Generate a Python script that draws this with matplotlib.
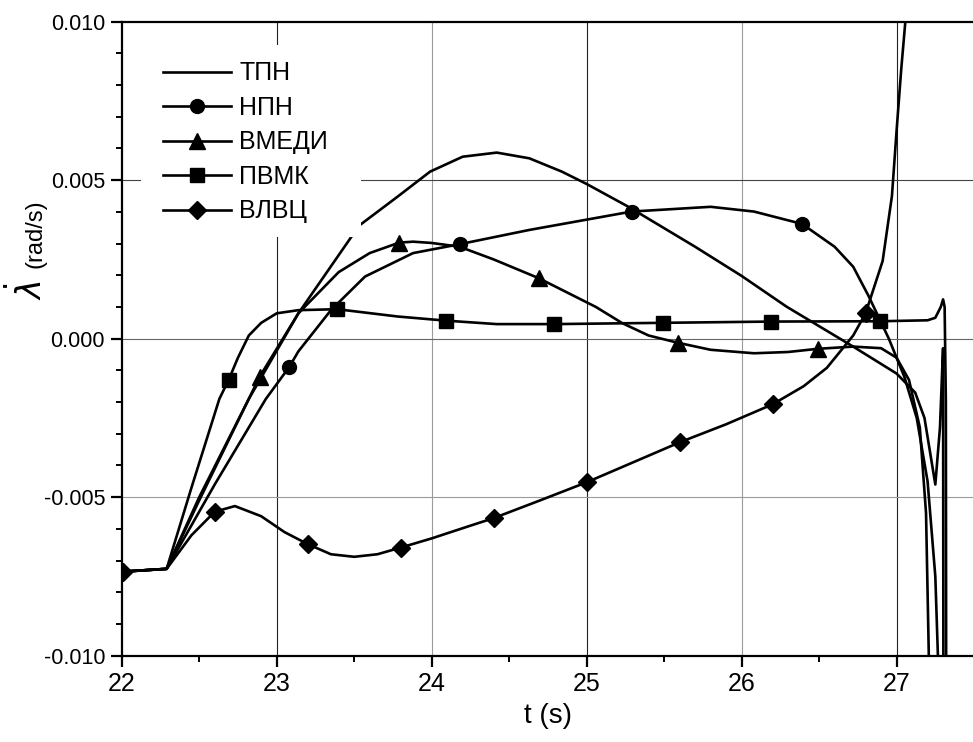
import matplotlib
matplotlib.use("Agg")
import matplotlib.pyplot as plt
from matplotlib.lines import Line2D
from matplotlib.patches import Rectangle

# ---- curves: time (s) and angular rate (rad/s) ----
t_tpn = [22.0, 22.29, 22.5, 22.82, 23.14, 23.48, 23.53, 23.78, 23.99, 24.2, 24.42,
         24.63, 24.84, 25.0, 25.27, 25.7, 26.0, 26.29, 26.72, 27.0, 27.12, 27.18, 27.22,
         27.25, 27.28, 27.295, 27.30, 27.302]
w_tpn = [-0.00735, -0.00726, -0.0051, -0.0019, 0.0008, 0.0032, 0.00356, 0.00448, 0.00527,
         0.00574, 0.00587, 0.00569, 0.00527, 0.00488, 0.00416, 0.0029, 0.00198, 0.00101,
         -0.00025, -0.0011, -0.0017, -0.0025, -0.0037, -0.0046, -0.0028, -0.0009, -0.0003,
         -0.0105]

t_npn = [22.0, 22.29, 22.6, 22.93, 23.08, 23.14, 23.35, 23.57, 23.88, 24.18, 24.63, 25.29,
         25.8, 26.08, 26.39, 26.6, 26.72, 26.82, 26.95, 27.05, 27.13, 27.2, 27.25, 27.27]
w_npn = [-0.00735, -0.00726, -0.0046, -0.0019, -0.0009, -0.0004, 0.0009, 0.00196, 0.0027,
         0.00298, 0.00343, 0.00401, 0.00416, 0.00401, 0.00362, 0.0029, 0.00227, 0.00134,
         0.0000, -0.0012, -0.0025, -0.0045, -0.0075, -0.0105]

t_vmedi = [22.0, 22.29, 22.5, 22.82, 22.89, 23.14, 23.4, 23.6, 23.79, 23.88, 24.0, 24.18,
           24.4, 24.69, 24.8, 25.06, 25.23, 25.4, 25.59, 25.8, 26.08, 26.3, 26.49, 26.72,
           26.9, 27.0, 27.08, 27.15, 27.19, 27.21]
w_vmedi = [-0.00735, -0.00726, -0.005, -0.0019, -0.0012, 0.0008, 0.0021, 0.0027, 0.00303,
           0.00306, 0.00302, 0.0029, 0.0025, 0.00191, 0.00164, 0.001, 0.00049, 0.0001,
           -0.00013, -0.00035, -0.00046, -0.00042, -0.00032, -0.00025, -0.0003, -0.0006,
           -0.0013, -0.0028, -0.0055, -0.0105]

t_pvmk = [22.0, 22.29, 22.45, 22.63, 22.69, 22.75, 22.82, 22.9, 23.0, 23.14, 23.39, 23.78,
          24.09, 24.42, 24.79, 25.49, 26.19, 26.89, 27.2, 27.25, 27.285, 27.3, 27.31, 27.318,
          27.32]
w_pvmk = [-0.00735, -0.00726, -0.0047, -0.0019, -0.0013, -0.0006, 0.0001, 0.0005, 0.0008,
          0.0009, 0.00093, 0.0007, 0.00057, 0.00046, 0.00046, 0.0005, 0.00054, 0.00055,
          0.00058, 0.00066, 0.0010, 0.00124, 0.0010, -0.002, -0.0105]

t_vlvc = [22.0, 22.29, 22.45, 22.6, 22.73, 22.9, 23.05, 23.2, 23.35, 23.5, 23.65, 23.8, 24.0,
          24.23, 24.4, 24.7, 25.0, 25.3, 25.6, 25.9, 26.2, 26.4, 26.55, 26.72, 26.8, 26.91,
          26.97, 27.0, 27.03, 27.06]
w_vlvc = [-0.00735, -0.00726, -0.0062, -0.00546, -0.00528, -0.0056, -0.0061, -0.00648,
          -0.0068, -0.00688, -0.0068, -0.00659, -0.0063, -0.00593, -0.00566, -0.0051,
          -0.00453, -0.0039, -0.00327, -0.0027, -0.00207, -0.0015, -0.00092, 0.0001, 0.0008,
          0.00245, 0.0045, 0.00656, 0.0085, 0.0102]

# ---- symbol positions along the curves ----
mt_npn = [23.08, 24.18, 25.29, 26.39]
mw_npn = [-0.0009, 0.00298, 0.00401, 0.00362]
mt_vmedi = [22.89, 23.79, 24.69, 25.59, 26.49]
mw_vmedi = [-0.0012, 0.00303, 0.00191, -0.00013, -0.00032]
mt_pvmk = [22.69, 23.39, 24.09, 24.79, 25.49, 26.19, 26.89]
mw_pvmk = [-0.0013, 0.00093, 0.00057, 0.00046, 0.0005, 0.00054, 0.00055]
mt_vlvc = [22.01, 22.6, 23.2, 23.8, 24.4, 25.0, 25.6, 26.2, 26.8]
mw_vlvc = [-0.00735, -0.00546, -0.00648, -0.00659, -0.00566, -0.00453, -0.00327, -0.00207,
           0.0008]

labels = ["ТПН", "НПН", "ВМЕДИ", "ПВМК", "ВЛВЦ"]
x_ticks = [22, 23, 24, 25, 26, 27]
y_ticks = [-0.010, -0.005, 0.000, 0.005, 0.010]

plt.rcParams["font.family"] = ["Liberation Sans", "DejaVu Sans"]
plt.rcParams["mathtext.fontset"] = "dejavusans"

fig = plt.figure(figsize=(9.73, 7.42), dpi=100)
ax = fig.add_axes([0.1251, 0.1163, 0.8760, 0.8545])

LW = 1.9
MS = {"o": 10, "^": 11, "s": 9.5, "D": 9.5}
# grid lines
for xv, c in zip([23, 24, 25, 26, 27], ["#222222", "#9a9a9a", "#222222", "#9a9a9a", "#222222"]):
    ax.axvline(xv, color=c, lw=0.8, zorder=1)
for yv, c in zip([0.005, 0.0, -0.005], ["#444444", "#666666", "#9a9a9a"]):
    ax.axhline(yv, color=c, lw=0.8, zorder=1)

ax.plot(t_tpn, w_tpn, color="black", lw=LW, zorder=3)
ax.plot(t_npn, w_npn, color="black", lw=LW, zorder=3)
ax.plot(t_vmedi, w_vmedi, color="black", lw=LW, zorder=3)
ax.plot(t_pvmk, w_pvmk, color="black", lw=LW, zorder=3)
ax.plot(t_vlvc, w_vlvc, color="black", lw=LW, zorder=3)

ax.plot(mt_npn, mw_npn, "o", color="black", ms=MS["o"], zorder=4)
ax.plot(mt_vmedi, mw_vmedi, "^", color="black", ms=MS["^"], zorder=4)
ax.plot(mt_pvmk, mw_pvmk, "s", color="black", ms=MS["s"], zorder=4)
ax.plot(mt_vlvc, mw_vlvc, "D", color="black", ms=MS["D"], zorder=4)

ax.set_xlim(22, 27.44)
ax.set_ylim(-0.010, 0.010)
ax.set_xticks(x_ticks)
ax.set_xticks([22.5, 23.5, 24.5, 25.5, 26.5, 27.5], minor=True)
ax.set_yticks(y_ticks)
ax.set_yticks([v / 1000 for v in range(-9, 10) if v % 5 != 0], minor=True)
ax.set_yticklabels([f"{v:.3f}" for v in y_ticks], fontsize=15.5)
ax.set_xticklabels([str(v) for v in x_ticks], fontsize=18)

ax.tick_params(which="major", direction="out", length=8, width=1.6, pad=4)
ax.tick_params(which="minor", direction="out", length=4.5, width=1.4)
for side in ["left", "bottom", "top"]:
    ax.spines[side].set_linewidth(1.6)
ax.spines["right"].set_visible(False)

ax.set_xlabel("t (s)", fontsize=20, labelpad=5)

# y-axis title: large dotted lambda followed by the unit, sharing one baseline
fig.text(42 / 973, 1 - 300 / 742, r"$\dot{\lambda}$", rotation=90, fontsize=24,
         ha="left", va="baseline", rotation_mode="anchor")
fig.text(42 / 973, 1 - 268 / 742, "(rad/s)", rotation=90, fontsize=17,
         ha="left", va="baseline", rotation_mode="anchor")

# legend block with an opaque backing
ax.add_patch(Rectangle((0.0227, 0.660), 0.2583, 0.303, transform=ax.transAxes,
                       facecolor="white", edgecolor="none", zorder=5))
handles = [
    Line2D([], [], color="black", lw=LW),
    Line2D([], [], color="black", lw=LW, marker="o", ms=MS["o"]),
    Line2D([], [], color="black", lw=LW, marker="^", ms=MS["^"]),
    Line2D([], [], color="black", lw=LW, marker="s", ms=MS["s"]),
    Line2D([], [], color="black", lw=LW, marker="D", ms=MS["D"]),
]
leg = ax.legend(handles, labels, loc="upper left", bbox_to_anchor=(0.028, 0.965),
                frameon=False, fontsize=18, handlelength=2.7, handletextpad=0.35,
                labelspacing=0.42, numpoints=1, borderpad=0.2)
leg.set_zorder(6)

fig.savefig("out.png", dpi=100)
